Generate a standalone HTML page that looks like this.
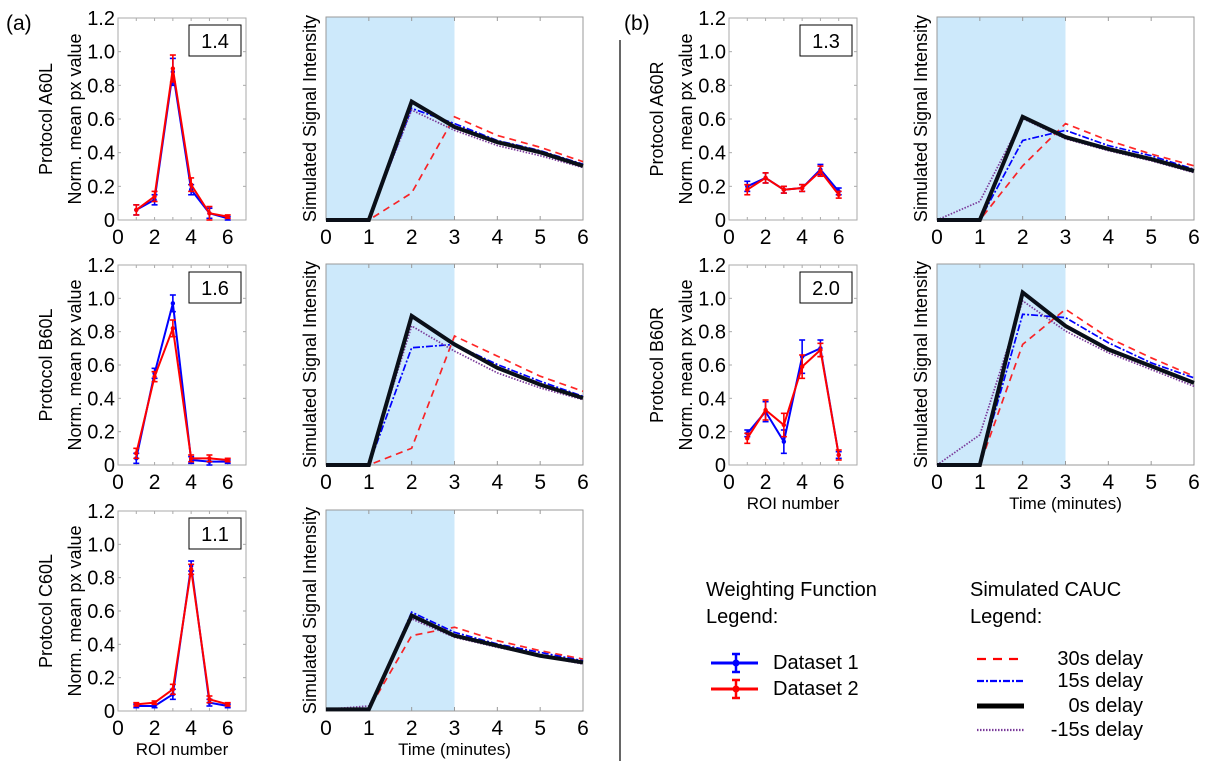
<!DOCTYPE html>
<html><head><meta charset="utf-8"><style>
body{margin:0;background:#fff;}
svg{display:block;font-family:"Liberation Sans",sans-serif;}
</style></head><body>
<svg id="fig" width="1214" height="761" viewBox="0 0 1214 761">
<text x="6" y="30" font-size="21">(a)</text>
<text x="624" y="30" font-size="21">(b)</text>
<line x1="620" y1="40" x2="620" y2="761" stroke="#000" stroke-width="1.2"/>
<g id="plots"></g>
<g font-size="20">
<text x="706" y="596">Weighting Function</text>
<text x="706" y="623">Legend:</text>
<g><line x1="711" y1="663" x2="758" y2="663" stroke="#00f" stroke-width="3"/><line x1="736" y1="654" x2="736" y2="672" stroke="#00f" stroke-width="2.5"/><line x1="732" y1="654" x2="740" y2="654" stroke="#00f" stroke-width="2.5"/><line x1="732" y1="672" x2="740" y2="672" stroke="#00f" stroke-width="2.5"/><circle cx="736" cy="663" r="3.5" fill="#00f"/><text x="773" y="669">Dataset 1</text></g>
<g><line x1="711" y1="689" x2="758" y2="689" stroke="#f00" stroke-width="3"/><line x1="736" y1="680" x2="736" y2="698" stroke="#f00" stroke-width="2.5"/><line x1="732" y1="680" x2="740" y2="680" stroke="#f00" stroke-width="2.5"/><line x1="732" y1="698" x2="740" y2="698" stroke="#f00" stroke-width="2.5"/><circle cx="736" cy="689" r="3.5" fill="#f00"/><text x="773" y="695">Dataset 2</text></g>
</g>
<g font-size="20">
<text x="970" y="596">Simulated CAUC</text>
<text x="970" y="623">Legend:</text>
<g><line x1="977" y1="659" x2="1024" y2="659" stroke="#f00" stroke-width="2.2" stroke-dasharray="9,7"/><text x="1143" y="665" text-anchor="end">30s delay</text></g>
<g><line x1="977" y1="681" x2="1024" y2="681" stroke="#00f" stroke-width="2.2" stroke-dasharray="7,2,2,2"/><text x="1143" y="687" text-anchor="end">15s delay</text></g>
<g><line x1="977" y1="706" x2="1024" y2="706" stroke="#000" stroke-width="5"/><text x="1143" y="712" text-anchor="end">0s delay</text></g>
<g><line x1="977" y1="730" x2="1024" y2="730" stroke="#7a3a9a" stroke-width="2.2" stroke-dasharray="1.5,1.5"/><text x="1143" y="736" text-anchor="end">-15s delay</text></g>
</g>
</svg>
<script>
const roi = [1,2,3,4,5,6];
const times = [0,1,2,3,4,5,6];
const yTicks = [0,0.2,0.4,0.6,0.8,1.0,1.2];
const yTickLabels = ["0","0.2","0.4","0.6","0.8","1.0","1.2"];
const xRoiTicks = [0,2,4,6];
const xTimeTicks = [0,1,2,3,4,5,6];
const protocols = ["Protocol A60L","Protocol B60L","Protocol C60L","Protocol A60R","Protocol B60R"];
const boxLabels = ["1.4","1.6","1.1","1.3","2.0"];
// weighting function data
const ds1A60L = [0.06,0.12,0.88,0.18,0.04,0.01];
const ds2A60L = [0.06,0.14,0.90,0.21,0.04,0.02];
const err1A60L = [0.03,0.03,0.08,0.03,0.03,0.01];
const err2A60L = [0.03,0.03,0.08,0.04,0.04,0.01];
const ds1B60L = [0.04,0.55,0.97,0.03,0.02,0.02];
const ds2B60L = [0.07,0.53,0.82,0.04,0.04,0.03];
const err1B60L = [0.03,0.03,0.05,0.02,0.02,0.01];
const err2B60L = [0.03,0.03,0.05,0.02,0.02,0.01];
const ds1C60L = [0.03,0.03,0.10,0.87,0.05,0.03];
const ds2C60L = [0.04,0.05,0.13,0.85,0.07,0.04];
const err1C60L = [0.01,0.01,0.03,0.03,0.02,0.01];
const err2C60L = [0.01,0.01,0.03,0.03,0.02,0.01];
const ds1A60R = [0.20,0.25,0.18,0.19,0.30,0.17];
const ds2A60R = [0.18,0.25,0.18,0.19,0.29,0.15];
const err1A60R = [0.03,0.03,0.02,0.02,0.03,0.02];
const err2A60R = [0.03,0.03,0.02,0.02,0.03,0.02];
const ds1B60R = [0.19,0.32,0.14,0.65,0.70,0.06];
const ds2B60R = [0.16,0.33,0.24,0.59,0.69,0.06];
const err1B60R = [0.02,0.06,0.07,0.10,0.05,0.02];
const err2B60R = [0.03,0.06,0.07,0.07,0.04,0.03];
// simulated CAUC curves
const d30A60L = [0,0,0.16,0.61,0.50,0.43,0.345];
const d15A60L = [0,0,0.66,0.57,0.47,0.41,0.33];
const d0A60L  = [0,0,0.70,0.55,0.46,0.40,0.32];
const dm15A60L= [0,0.005,0.65,0.53,0.44,0.38,0.31];
const d30B60L = [0,0,0.10,0.77,0.65,0.53,0.44];
const d15B60L = [0,0,0.70,0.72,0.60,0.50,0.41];
const d0B60L  = [0,0,0.89,0.72,0.58,0.48,0.40];
const dm15B60L= [0,0.005,0.83,0.68,0.55,0.46,0.39];
const d30C60L = [0.01,0.01,0.45,0.50,0.42,0.36,0.31];
const d15C60L = [0.01,0.01,0.59,0.47,0.40,0.35,0.30];
const d0C60L  = [0.01,0.01,0.57,0.45,0.39,0.33,0.29];
const dm15C60L= [0.01,0.03,0.55,0.44,0.38,0.33,0.28];
const d30A60R = [0,0,0.32,0.57,0.47,0.39,0.32];
const d15A60R = [0,0,0.47,0.53,0.44,0.38,0.30];
const d0A60R  = [0,0,0.61,0.49,0.42,0.36,0.29];
const dm15A60R= [0,0.11,0.60,0.48,0.41,0.35,0.28];
const d30B60R = [0,0,0.72,0.93,0.76,0.64,0.53];
const d15B60R = [0,0,0.90,0.88,0.73,0.61,0.52];
const d0B60R  = [0,0,1.03,0.83,0.69,0.59,0.49];
const dm15B60R= [0,0.18,0.98,0.80,0.67,0.57,0.47];

const panels = [
 {lx:118, rx:326, top:18, bot:220, ds1:ds1A60L, ds2:ds2A60L, e1:err1A60L, e2:err2A60L, c:[d30A60L,d15A60L,d0A60L,dm15A60L], id:"a60l", xl:false},
 {lx:118, rx:326, top:265, bot:465, ds1:ds1B60L, ds2:ds2B60L, e1:err1B60L, e2:err2B60L, c:[d30B60L,d15B60L,d0B60L,dm15B60L], id:"b60l", xl:false},
 {lx:118, rx:326, top:511, bot:711, ds1:ds1C60L, ds2:ds2C60L, e1:err1C60L, e2:err2C60L, c:[d30C60L,d15C60L,d0C60L,dm15C60L], id:"c60l", xl:true},
 {lx:729, rx:937, top:18, bot:220, ds1:ds1A60R, ds2:ds2A60R, e1:err1A60R, e2:err2A60R, c:[d30A60R,d15A60R,d0A60R,dm15A60R], id:"a60r", xl:false},
 {lx:729, rx:937, top:265, bot:465, ds1:ds1B60R, ds2:ds2B60R, e1:err1B60R, e2:err2B60R, c:[d30B60R,d15B60R,d0B60R,dm15B60R], id:"b60r", xl:true}
];
const NS="http://www.w3.org/2000/svg";
const root=document.getElementById("plots");
function mk(tag,attrs,parent,text){const e=document.createElementNS(NS,tag);for(const k in attrs)e.setAttribute(k,attrs[k]);if(text!==undefined)e.textContent=text;parent.appendChild(e);return e;}
const styles=[{s:"#f00",w:1.7,d:"7,5",o:0.85},{s:"#00f",w:1.7,d:"7,2,2,2",o:1},{s:"#0a0f18",w:4,d:"",o:1},{s:"#7a3a9a",w:1.7,d:"1.5,1.5",o:1}];
panels.forEach((p,i)=>{
  const g=mk("g",{},root);
  
  
  const W=128, LW=257;
  const xr=v=>p.lx+v*W/7;
  const yr=v=>p.bot-(v/1.2)*(p.bot-p.top);
  const lg=mk("g",{},g);
  
  
  mk("rect",{x:p.lx,y:p.top,width:W,height:p.bot-p.top,fill:"none",stroke:"#aaa","stroke-width":1},lg);
  yTicks.forEach((t,k)=>{
    mk("line",{x1:p.lx,x2:p.lx+3,y1:yr(t),y2:yr(t),stroke:"#aaa"},lg);
    mk("line",{x1:p.lx+W,x2:p.lx+W-3,y1:yr(t),y2:yr(t),stroke:"#aaa"},lg);
    const tl=mk("text",{x:p.lx-3,y:yr(t)+7,"font-size":20,"text-anchor":"end"},lg,yTickLabels[k]);
    
    
  });
  for(let k=1;k<7;k++){mk("line",{x1:xr(k),x2:xr(k),y1:p.bot,y2:p.bot-3,stroke:"#aaa"},lg);mk("line",{x1:xr(k),x2:xr(k),y1:p.top,y2:p.top+3,stroke:"#aaa"},lg);}
  xRoiTicks.forEach(t=>{const tl=mk("text",{x:xr(t),y:p.bot+24,"font-size":21,"text-anchor":"middle"},lg,String(t));
    
    });
  [[p.ds1,p.e1,"#00f"],[p.ds2,p.e2,"#f00"]].forEach(([d,e,col],si)=>{
    const pl=mk("polyline",{points:roi.map((r,k)=>xr(r)+","+yr(d[k])).join(" "),fill:"none",stroke:col,"stroke-width":2},lg);
    
    
    roi.forEach((r,k)=>{
      mk("line",{x1:xr(r),x2:xr(r),y1:yr(d[k]-e[k]),y2:yr(d[k]+e[k]),stroke:col,"stroke-width":1.6},lg);
      mk("line",{x1:xr(r)-3,x2:xr(r)+3,y1:yr(d[k]-e[k]),y2:yr(d[k]-e[k]),stroke:col,"stroke-width":1.6},lg);
      mk("line",{x1:xr(r)-3,x2:xr(r)+3,y1:yr(d[k]+e[k]),y2:yr(d[k]+e[k]),stroke:col,"stroke-width":1.6},lg);
      const pt=mk("circle",{cx:xr(r),cy:yr(d[k]),r:2.2,fill:col},lg);
      
      
    });
  });
  const bx=mk("g",{},lg);
  
  
  mk("rect",{x:p.lx+71,y:p.top+7,width:52,height:31,fill:"#fff",stroke:"#000","stroke-width":1},bx);
  mk("text",{x:p.lx+97,y:p.top+30,"font-size":20,"text-anchor":"middle"},bx,boxLabels[i]);
  const cy=(p.top+p.bot)/2;
  const t1=mk("text",{transform:`translate(${p.lx-66},${cy}) rotate(-90)`,"font-size":18,"text-anchor":"middle"},lg,protocols[i]);
  
  
  const t2=mk("text",{transform:`translate(${p.lx-37},${cy}) rotate(-90)`,"font-size":18,"text-anchor":"middle"},lg,"Norm. mean px value");
  
  
  if(p.xl){const t=mk("text",{x:p.lx+64,y:p.bot+44,"font-size":17,"text-anchor":"middle"},lg,"ROI number");
    
    }
  const rtop=p.top-1;
  const xt=v=>p.rx+v*LW/6;
  const yt=v=>p.bot-(v/1.2)*(p.bot-rtop);
  const rg=mk("g",{},g);
  
  
  const sh=mk("rect",{x:p.rx,y:rtop,width:xt(3)-p.rx,height:p.bot-rtop,fill:"#cde9fb"},rg);
  
  
  mk("rect",{x:p.rx,y:rtop,width:LW,height:p.bot-rtop,fill:"none",stroke:"#999","stroke-width":1},rg);
  xTimeTicks.forEach(t=>{
    mk("line",{x1:xt(t),x2:xt(t),y1:p.bot,y2:p.bot-4,stroke:"#999"},rg);
    mk("line",{x1:xt(t),x2:xt(t),y1:rtop,y2:rtop+4,stroke:"#999"},rg);
    const tl=mk("text",{x:xt(t),y:p.bot+24,"font-size":21,"text-anchor":"middle"},rg,String(t));
    
    
  });
  const names=["curve-30s-delay","curve-15s-delay","curve-0s-delay","curve-minus15s-delay"];
  [0,1,3,2].forEach(ci=>{
    const st=styles[ci];
    const pl=mk("polyline",{points:times.map((t,k)=>xt(t)+","+yt(p.c[ci][k])).join(" "),fill:"none",stroke:st.s,"stroke-width":st.w,"stroke-dasharray":st.d,opacity:st.o,"stroke-linejoin":"miter"},rg);
    
    
  });
  const t3=mk("text",{transform:`translate(${p.rx-10},${(rtop+p.bot)/2}) rotate(-90)`,"font-size":18,"text-anchor":"middle"},rg,"Simulated Signal Intensity");
  
  
  if(p.xl){const t=mk("text",{x:xt(3),y:p.bot+44,"font-size":17,"text-anchor":"middle"},rg,"Time (minutes)");
    
    }
});
</script>
</body></html>
